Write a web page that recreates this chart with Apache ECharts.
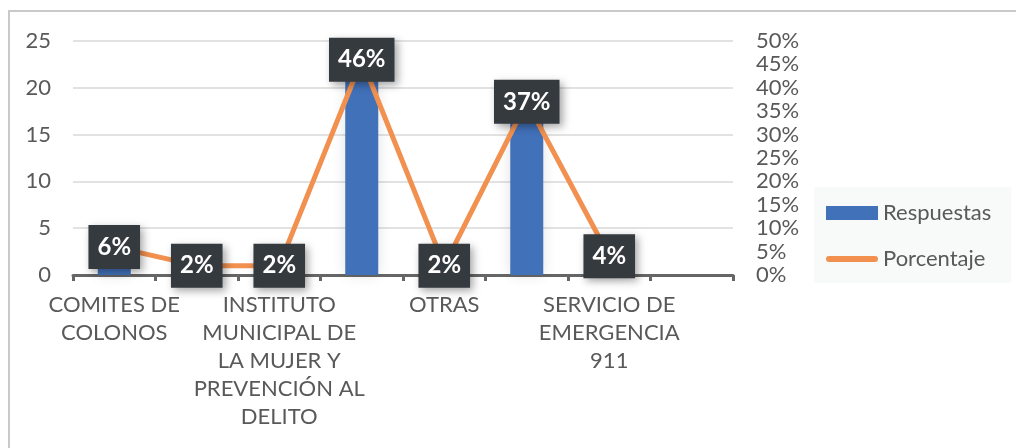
<!DOCTYPE html>
<html>
<head>
<meta charset="utf-8">
<script src="https://cdn.jsdelivr.net/npm/echarts@6/dist/echarts.min.js"></script>
<style>
  html, body { margin: 0; padding: 0; background: #fff; }
  #chart { width: 1016px; height: 448px; }
</style>
</head>
<body>
<div id="chart"></div>
<script>
// categorias (las que no se ven en el eje quedan vacias)
var categorias = [
  'COMITES DE\nCOLONOS',
  '',
  'INSTITUTO\nMUNICIPAL DE\nLA MUJER Y\nPREVENCIÓN AL\nDELITO',
  '',
  'OTRAS',
  '',
  'SERVICIO DE\nEMERGENCIA\n911',
  ''
]
var respuestas = [3, 1, 1, 22, 1, 18, 2, null]
var porcentaje = [0.06, 0.02, 0.02, 0.46, 0.02, 0.37, 0.04, null]

var fuente = 'Lato, "Liberation Sans", sans-serif'
var gris = '#595959'
var azul = '#4171B9'
var naranja = '#F2914F'

// icono de linea gruesa para la leyenda (puntos invisibles arriba y abajo para fijar la caja)
var iconoLinea = 'path://M0,0h0.01v0.01h-0.01Z M3,4h46a3,3 0 0 1 0,6h-46a3,3 0 0 1 0,-6Z M0,14h0.01v-0.01h-0.01Z'

var myChart = echarts.init(document.getElementById('chart'))

var option = {
  animation: false,
  color: [azul, naranja],
  textStyle: { fontFamily: fuente },
  graphic: [
    {
      type: 'rect',
      shape: { x: 9, y: 11, width: 1100, height: 500 },
      style: { fill: 'none', stroke: '#c9c9c9', lineWidth: 2 },
      silent: true
    }
  ],
  legend: {
    orient: 'vertical',
    left: 814,
    top: 187,
    width: 172,
    backgroundColor: '#f8f9f9',
    padding: [15, 20, 13, 12],
    itemWidth: 52,
    itemHeight: 14,
    itemGap: 24,
    textStyle: { color: gris, fontSize: 22, fontFamily: fuente },
    data: [
      { name: 'Respuestas', icon: 'rect' },
      { name: 'Porcentaje', icon: iconoLinea, itemStyle: { color: naranja } }
    ]
  },
  grid: {
    left: 73,
    right: 283,
    top: 41,
    bottom: 173
  },
  xAxis: {
    type: 'category',
    data: categorias,
    boundaryGap: true,
    axisLine: { lineStyle: { color: '#666', width: 3 } },
    axisTick: { show: true, interval: 0, length: 6, lineStyle: { color: '#666', width: 3 } },
    axisLabel: {
      interval: 1,
      color: gris,
      fontSize: 22,
      lineHeight: 28,
      margin: 16,
      fontFamily: fuente
    }
  },
  yAxis: [
    {
      type: 'value',
      min: 0,
      max: 25,
      interval: 5,
      axisLine: { show: false },
      axisTick: { show: false },
      axisLabel: { color: gris, fontSize: 22, margin: 22, fontFamily: fuente },
      splitLine: { lineStyle: { color: '#d9d9d9', width: 1.5 } }
    },
    {
      type: 'value',
      min: 0,
      max: 0.5,
      interval: 0.05,
      axisLine: { show: false },
      axisTick: { show: false },
      splitLine: { show: false },
      axisLabel: {
        color: gris,
        fontSize: 22,
        margin: 23,
        fontFamily: fuente,
        formatter: function (v) { return Math.round(v * 100) + '%' }
      }
    }
  ],
  series: [
    {
      name: 'Respuestas',
      type: 'bar',
      barWidth: 33,
      data: respuestas,
      itemStyle: {
        color: azul,
        shadowBlur: 14,
        shadowColor: 'rgba(0,0,0,0.12)'
      }
    },
    {
      name: 'Porcentaje',
      type: 'line',
      yAxisIndex: 1,
      data: porcentaje,
      showSymbol: true,
      symbol: 'circle',
      symbolSize: 0.1,
      lineStyle: { color: naranja, width: 5 },
      itemStyle: { color: naranja },
      z: 5,
      label: {
        show: true,
        position: 'inside',
        formatter: function (p) { return Math.round(p.value * 100) + '%' },
        color: '#fff',
        fontWeight: 'bold',
        fontSize: 24,
        fontFamily: fuente,
        backgroundColor: '#353a3f',
        padding: [10, 9, 10, 9],
        shadowBlur: 8,
        shadowColor: 'rgba(0,0,0,0.35)',
        shadowOffsetX: 3,
        shadowOffsetY: 3
      }
    }
  ]
}

myChart.setOption(option)
</script>
</body>
</html>
